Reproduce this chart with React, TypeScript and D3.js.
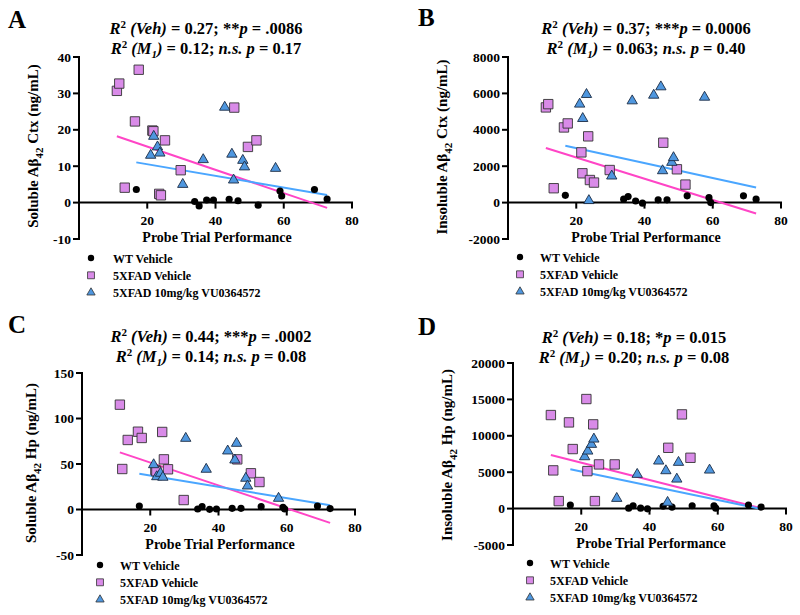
import React from "react";
import * as d3 from "d3";

// Shared x values (probe trial performance) per group
const X_WT = [16.8, 33.9, 35.2, 37.4, 39.4, 44.0, 46.6, 52.5, 58.9, 59.4, 69.0, 72.7];
const X_VEH = [11.1, 11.8, 13.4, 16.4, 17.5, 21.5, 21.8, 23.5, 24.0, 25.2, 29.8, 45.5, 49.5, 52.0];
const X_DRUG = [21.0, 21.9, 23.0, 23.7, 30.4, 36.4, 42.7, 44.8, 45.3, 48.0, 48.5, 57.6];

// Panel A: Soluble Ab42 Ctx
const A_WT = [3.6, 0.3, -0.9, 0.7, 0.7, 0.9, 0.5, -0.7, 3.2, 1.8, 3.6, 1.0];
const A_VEH = [30.7, 32.7, 4.1, 22.3, 36.5, 19.8, 19.6, 2.4, 2.0, 17.1, 8.9, 26.1, 15.3, 17.1];
const A_DRUG = [13.0, 18.2, 15.3, 13.6, 5.0, 11.8, 26.2, 13.3, 6.2, 11.6, 9.8, 9.4];

// Panel B: Insoluble Ab42 Ctx
const B_WT = [400, 190, 330, 90, -30, 150, 150, 370, 270, 0, 370, 190];
const B_VEH = [5230, 5410, 790, 4130, 4350, 2760, 1610, 3640, 1240, 1100, 1790, 3290, 1830, 990];
const B_DRUG = [5410, 4620, 5940, 110, 1460, 5590, 5900, 6360, 1750, 2210, 2470, 5790];

// Panel C: Soluble Ab42 Hp
const C_WT = [3.8, 0.5, 3.1, 0.2, 0.5, 1.3, 1.3, 3.1, 2.5, 0.5, 3.8, 1.0];
const C_VEH = [115.2, 44.5, 76.4, 85.5, 78.6, 43.4, 42.0, 85.2, 55.1, 44.2, 10.4, 55.1, 39.8, 30.2];
const C_DRUG = [49.2, 36.0, 39.8, 35.4, 78.2, 44.2, 64.3, 54.4, 72.7, 34.3, 25.8, 12.3];

// Panel D: Insoluble Ab42 Hp
const D_WT = [480, 60, 390, 60, -30, 330, 210, 390, 390, 60, 480, 210];
const D_VEH = [12850, 5250, 1030, 11840, 8180, 15050, 5150, 11570, 1030, 6070, 6070, 8350, 12940, 6980];
const D_DRUG = [7120, 7900, 8820, 9550, 1400, 4700, 6530, 5200, 850, 4050, 6350, 5290];

const LETTERS = ["A", "B", "C", "D"];
const Y_DOMAINS = [[-10, 40], [-2000, 8000], [-50, 150], [-5000, 20000]];
const Y_STEPS = [10, 2000, 50, 5000];
const X_TICKS = [20, 40, 60, 80];
const Y_PREFIX = ["Soluble", "Insoluble", "Soluble", "Insoluble"];
const Y_REGION = ["Ctx", "Ctx", "Hp", "Hp"];
const R2_VEH = ["0.27", "0.37", "0.44", "0.18"];
const STARS_VEH = ["**", "***", "***", "*"];
const P_VEH = [".0086", "0.0006", ".0002", "0.015"];
const R2_M1 = ["0.12", "0.063", "0.14", "0.20"];
const P_M1 = ["0.17", "0.40", "0.08", "0.08"];
const LEGEND = ["WT Vehicle", "5XFAD Vehicle", "5XFAD 10mg/kg VU0364572"];
const X_TITLE = "Probe Trial Performance";

const WT_DATA = [A_WT, B_WT, C_WT, D_WT];
const VEH_DATA = [A_VEH, B_VEH, C_VEH, D_VEH];
const DRUG_DATA = [A_DRUG, B_DRUG, C_DRUG, D_DRUG];

// layout per panel
const LAYOUT = [
  { left: 79, top: 57, bottom: 239, letter: [8, 28], titleX: 206, titleY: 34, ylabX: 38, ylabY: 146, legX: 91, legY: 258, legTX: 113 },
  { left: 508, top: 57, bottom: 239, letter: [418, 26], titleX: 646, titleY: 34, ylabX: 447, ylabY: 147, legX: 520, legY: 257, legTX: 540 },
  { left: 82, top: 373, bottom: 555, letter: [8, 333], titleX: 211, titleY: 342, ylabX: 36, ylabY: 463, legX: 100, legY: 565, legTX: 120 },
  { left: 513, top: 363, bottom: 545, letter: [418, 335], titleX: 634, titleY: 343, ylabX: 452, ylabY: 455, legX: 530, legY: 563, legTX: 550 },
];

const FONT = "'Liberation Serif', 'Times New Roman', serif";
const VEH_FILL = "#d98be8";
const DRUG_FILL = "#4f97df";
const VEH_LINE = "#ff45c6";
const DRUG_LINE = "#4aa6ff";
const PLOT_W = 273;

function fit(xs: number[], ys: number[]) {
  const n = xs.length;
  const mx = d3.mean(xs) as number;
  const my = d3.mean(ys) as number;
  let sxy = 0, sxx = 0;
  for (let i = 0; i < n; i++) {
    sxy += (xs[i] - mx) * (ys[i] - my);
    sxx += (xs[i] - mx) ** 2;
  }
  const slope = sxy / sxx;
  const icpt = my - slope * mx;
  const x0 = d3.min(xs) as number;
  const x1 = d3.max(xs) as number;
  return [[x0, icpt + slope * x0], [x1, icpt + slope * x1]];
}

const sqPath = d3.symbol(d3.symbolSquare, 88)() as string;
const triPath = d3.symbol(d3.symbolTriangle, 46)() as string;
const cirPath = d3.symbol(d3.symbolCircle, 40)() as string;
const sqLeg = d3.symbol(d3.symbolSquare, 48)() as string;
const triLeg = d3.symbol(d3.symbolTriangle, 30)() as string;
const cirLeg = d3.symbol(d3.symbolCircle, 32)() as string;

function Panel({ i }: { i: number }) {
  const L = LAYOUT[i];
  const x = d3.scaleLinear().domain([0, 80]).range([L.left, L.left + PLOT_W]);
  const y = d3.scaleLinear().domain(Y_DOMAINS[i]).range([L.bottom, L.top]);
  const yTicks = d3.range(Y_DOMAINS[i][0], Y_DOMAINS[i][1] + 1e-9, Y_STEPS[i]);
  const y0 = y(0);
  const wt = WT_DATA[i], veh = VEH_DATA[i], drug = DRUG_DATA[i];
  const fitVeh = fit([...X_WT, ...X_VEH], [...wt, ...veh]);
  const fitDrug = fit([...X_WT, ...X_DRUG], [...wt, ...drug]);
  const line = d3.line<number[]>().x((d) => x(d[0])).y((d) => y(d[1]));

  return (
    <g fontFamily={FONT} fontWeight="bold">
      <text x={L.letter[0]} y={L.letter[1]} fontSize={25}>{LETTERS[i]}</text>
      <text x={L.titleX} y={L.titleY} textAnchor="middle" fontSize={16.5}>
        <tspan fontStyle="italic">R</tspan>
        <tspan fontSize={11} dy={-6}>2</tspan>
        <tspan fontStyle="italic" dy={6}>{" (Veh)"}</tspan>
        <tspan>{" = " + R2_VEH[i] + "; " + STARS_VEH[i]}</tspan>
        <tspan fontStyle="italic">p</tspan>
        <tspan>{" = " + P_VEH[i]}</tspan>
      </text>
      <text x={L.titleX} y={L.titleY + 20} textAnchor="middle" fontSize={16.5}>
        <tspan fontStyle="italic">R</tspan>
        <tspan fontSize={11} dy={-6}>2</tspan>
        <tspan fontStyle="italic" dy={6}>{" (M"}</tspan>
        <tspan fontStyle="italic" fontSize={11} dy={4}>1</tspan>
        <tspan fontStyle="italic" dy={-4}>)</tspan>
        <tspan>{" = " + R2_M1[i] + "; "}</tspan>
        <tspan fontStyle="italic">n.s.</tspan>
        <tspan> </tspan>
        <tspan fontStyle="italic">p</tspan>
        <tspan>{" = " + P_M1[i]}</tspan>
      </text>
      <text transform={`translate(${L.ylabX},${L.ylabY}) rotate(-90)`} textAnchor="middle" fontSize={15}>
        <tspan>{Y_PREFIX[i] + " A\u03B2"}</tspan>
        <tspan fontSize={11} dy={5}>42</tspan>
        <tspan dy={-5}>{" " + Y_REGION[i] + " (ng/mL)"}</tspan>
      </text>
      {/* y axis */}
      <line x1={L.left} x2={L.left} y1={L.top - 1} y2={L.bottom + 1} stroke="#000" strokeWidth={2} />
      {yTicks.map((t) => (
        <g key={t}>
          <line x1={L.left - 6} x2={L.left} y1={y(t)} y2={y(t)} stroke="#000" strokeWidth={2} />
          <text x={L.left - 8} y={y(t) + 4.5} textAnchor="end" fontSize={13.5}>{t}</text>
        </g>
      ))}
      {/* x axis */}
      <line x1={L.left} x2={x(80) + 1} y1={y0} y2={y0} stroke="#000" strokeWidth={2} />
      {X_TICKS.map((t) => (
        <g key={t}>
          <line x1={x(t)} x2={x(t)} y1={y0} y2={y0 + 6} stroke="#000" strokeWidth={2} />
          <text x={x(t)} y={y0 + 22} textAnchor="middle" fontSize={13.5}>{t}</text>
        </g>
      ))}
      <text x={L.left + 138} y={y0 + 39} textAnchor="middle" fontSize={14}>{X_TITLE}</text>
      {/* fit lines */}
      <path d={line(fitVeh) as string} stroke={VEH_LINE} strokeWidth={2} fill="none" />
      <path d={line(fitDrug) as string} stroke={DRUG_LINE} strokeWidth={2} fill="none" />
      {/* points */}
      {wt.map((v, k) => (
        <path key={"w" + k} d={cirPath} transform={`translate(${x(X_WT[k])},${y(v)})`} fill="#000" />
      ))}
      {veh.map((v, k) => (
        <path key={"v" + k} d={sqPath} transform={`translate(${x(X_VEH[k])},${y(v)})`} fill={VEH_FILL} stroke="#333" strokeWidth={0.9} />
      ))}
      {drug.map((v, k) => (
        <path key={"d" + k} d={triPath} transform={`translate(${x(X_DRUG[k])},${y(v)})`} fill={DRUG_FILL} stroke="#1b2b44" strokeWidth={0.9} />
      ))}
      {/* legend */}
      {LEGEND.map((lab, k) => {
        const ly = L.legY + k * 17.3;
        const p = k === 0 ? cirLeg : k === 1 ? sqLeg : triLeg;
        const fill = k === 0 ? "#000" : k === 1 ? VEH_FILL : DRUG_FILL;
        return (
          <g key={lab}>
            <path d={p} transform={`translate(${L.legX},${ly})`} fill={fill} stroke={k === 0 ? "none" : "#333"} strokeWidth={0.8} />
            <text x={L.legTX} y={ly + 4.5} fontSize={12}>{lab}</text>
          </g>
        );
      })}
    </g>
  );
}

export default function App() {
  return (
    <svg width={800} height={615} style={{ position: "absolute", left: 0, top: 0, background: "#fff" }}>
      <rect width={800} height={615} fill="#fff" />
      {[0, 1, 2, 3].map((i) => (
        <Panel key={i} i={i} />
      ))}
    </svg>
  );
}
